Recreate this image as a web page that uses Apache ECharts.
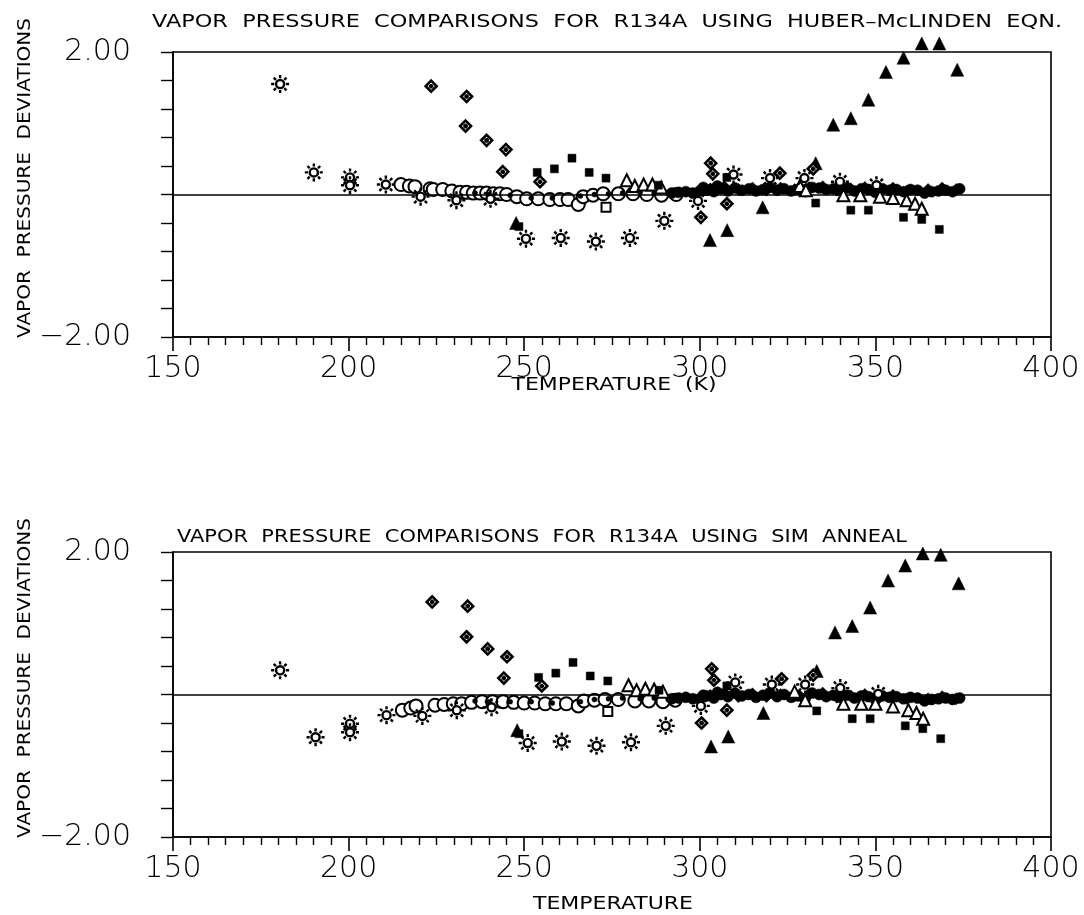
<!DOCTYPE html>
<html>
<head>
<meta charset="utf-8">
<script src="https://cdn.jsdelivr.net/npm/echarts@6/dist/echarts.min.js"></script>
<style>html,body{margin:0;padding:0;background:#fff}#c{width:1084px;height:915px}</style>
</head>
<body>
<div id="c"></div>
<script>
// ---------- DATA (temperature K, vapor pressure deviation) ----------
// Top panel: Huber-McLinden equation
const hmSunT = [180.5, 190.1, 200.4, 200.4, 210.6, 220.5, 230.7, 240.4, 250.5, 260.4, 270.4, 280.1, 289.9, 299.5, 309.6, 320.0, 329.8, 339.9, 350.3];
const hmSunV = [1.55, 0.31, 0.24, 0.13, 0.14, -0.03, -0.08, -0.06, -0.62, -0.61, -0.66, -0.61, -0.37, -0.09, 0.28, 0.23, 0.23, 0.18, 0.13];
const hmCircT = [214.9, 217.3, 218.9, 223.2, 224.1, 226.8, 229.4, 231.7, 233.6, 235.5, 237.4, 239.3, 241.2, 243.1, 245.0, 247.9, 250.7, 254.0, 257.3, 260.2, 262.5, 265.4, 266.8, 269.6, 272.5, 276.8, 281.0, 284.9, 289.1, 293.3];
const hmCircV = [0.14, 0.12, 0.11, 0.08, 0.07, 0.07, 0.05, 0.03, 0.03, 0.02, 0.02, 0.02, 0.01, 0.01, 0.0, -0.03, -0.06, -0.06, -0.07, -0.07, -0.07, -0.14, -0.03, -0.01, 0.01, 0.01, 0.01, 0.0, -0.01, 0.0];
const hmDiaT = [223.5, 233.6, 233.3, 239.3, 244.8, 243.9, 254.5, 300.3, 303.1, 303.7, 307.7, 322.8, 332.3];
const hmDiaV = [1.52, 1.375, 0.96, 0.76, 0.63, 0.32, 0.18, -0.32, 0.44, 0.29, -0.13, 0.30, 0.36];
const hmSqT = [248.5, 253.7, 258.6, 263.6, 268.5, 273.3, 288.2, 307.7, 333.0, 343.0, 348.0, 358.0, 363.2, 368.2];
const hmSqV = [-0.45, 0.31, 0.36, 0.51, 0.31, 0.23, 0.13, 0.24, -0.12, -0.22, -0.22, -0.32, -0.35, -0.49];
const hmTriT = [247.7, 302.9, 307.8, 317.9, 333.0, 338.0, 343.0, 348.0, 353.0, 358.0, 363.2, 368.2, 373.3];
const hmTriV = [-0.40, -0.64, -0.50, -0.18, 0.44, 0.98, 1.07, 1.33, 1.72, 1.92, 2.12, 2.12, 1.75];
const hmOTriT = [279.2, 281.5, 284.0, 286.5, 289.0, 328.5, 330.2, 340.9, 345.7, 351.3, 355.0, 358.9, 361.3, 363.2];
const hmOTriV = [0.20, 0.12, 0.14, 0.14, 0.10, 0.12, 0.06, -0.01, -0.01, -0.03, -0.05, -0.08, -0.13, -0.20];
const hmOSqT = [273.3];
const hmOSqV = [-0.18];
const hmDotT = [292, 294, 296, 298, 300, 301, 302, 304, 305, 306, 308, 310, 312, 314, 316, 318, 320, 322, 324, 326, 328, 330, 332, 334, 336, 338, 340, 342, 344, 346, 348, 350, 352, 354, 356, 358, 360, 362, 364, 366, 368, 370, 372, 374];
const hmDotV = [0.02, 0.03, 0.04, 0.02, 0.05, 0.10, 0.06, 0.04, 0.12, 0.08, 0.05, 0.09, 0.06, 0.08, 0.05, 0.07, 0.10, 0.06, 0.08, 0.05, 0.07, 0.04, 0.10, 0.09, 0.07, 0.08, 0.06, 0.09, 0.05, 0.08, 0.07, 0.03, 0.08, 0.06, 0.07, 0.04, 0.07, 0.06, 0.02, 0.04, 0.05, 0.06, 0.04, 0.08];
const hmDot2T = [303, 307, 311, 315, 319, 323, 327, 331, 335, 339, 343, 347, 351, 355, 359, 365, 369, 373];
const hmDot2V = [0.08, 0.11, 0.07, 0.09, 0.06, 0.09, 0.07, 0.09, 0.11, 0.06, 0.08, 0.10, 0.06, 0.09, 0.05, 0.07, 0.09, 0.07];
const hmSmallT = [236, 240, 246, 252, 258, 266, 270, 274, 278, 283, 287, 291, 295];
const hmSmallV = [0.02, 0.0, -0.01, -0.05, -0.05, -0.02, 0.0, 0.01, 0.02, 0.03, 0.02, 0.03, 0.02];

// Bottom panel: simulated annealing
const saSunT = [180.5, 190.6, 200.4, 200.4, 210.8, 221.0, 230.8, 240.7, 251.0, 260.7, 270.6, 280.4, 290.3, 300.3, 310.1, 320.5, 330.0, 340.0, 350.8];
const saSunV = [0.34, -0.60, -0.41, -0.53, -0.29, -0.30, -0.22, -0.18, -0.68, -0.66, -0.72, -0.67, -0.44, -0.16, 0.17, 0.14, 0.14, 0.09, 0.01];
const saCircT = [215.3, 217.7, 219.2, 224.6, 227.2, 229.8, 232.2, 235.0, 238.0, 241.0, 244.0, 247.0, 250.0, 253.0, 256.0, 259.0, 262.0, 265.4, 267.0, 270.0, 273.0, 276.8, 281.5, 285.5, 289.5, 293.0];
const saCircV = [-0.22, -0.19, -0.16, -0.15, -0.14, -0.13, -0.13, -0.11, -0.10, -0.10, -0.10, -0.11, -0.12, -0.12, -0.13, -0.13, -0.13, -0.16, -0.09, -0.08, -0.07, -0.07, -0.09, -0.09, -0.10, -0.08];
const saDiaT = [223.8, 233.9, 233.6, 239.6, 245.1, 244.2, 255.0, 300.5, 303.4, 304.0, 307.7, 323.3, 332.3];
const saDiaV = [1.30, 1.24, 0.81, 0.64, 0.53, 0.23, 0.12, -0.40, 0.36, 0.20, -0.22, 0.22, 0.27];
const saSqT = [248.5, 254.1, 259.0, 263.9, 268.8, 273.8, 288.4, 307.7, 333.3, 343.4, 348.5, 358.5, 363.5, 368.6];
const saSqV = [-0.55, 0.24, 0.30, 0.45, 0.26, 0.19, 0.06, 0.12, -0.23, -0.34, -0.34, -0.44, -0.48, -0.62];
const saTriT = [248.0, 303.2, 308.1, 318.1, 333.3, 338.5, 343.4, 348.5, 353.6, 358.5, 363.5, 368.6, 373.7];
const saTriV = [-0.50, -0.73, -0.59, -0.26, 0.33, 0.87, 0.96, 1.22, 1.60, 1.81, 1.98, 1.96, 1.56];
const saOTriT = [279.7, 282.0, 284.5, 287.0, 289.5, 327.0, 330.0, 340.9, 346.0, 350.0, 355.0, 359.4, 361.7, 363.6];
const saOTriV = [0.13, 0.06, 0.08, 0.07, 0.04, 0.04, -0.08, -0.13, -0.13, -0.13, -0.17, -0.22, -0.26, -0.34];
const saOSqT = [273.8];
const saOSqV = [-0.24];
const saDotT = [292, 294, 296, 298, 300, 301, 302, 304, 305, 306, 308, 310, 312, 314, 316, 318, 320, 322, 324, 326, 328, 330, 332, 334, 336, 338, 340, 342, 344, 346, 348, 350, 352, 354, 356, 358, 360, 362, 364, 366, 368, 370, 372, 374];
const saDotV = [-0.06, -0.05, -0.04, -0.06, -0.06, -0.01, -0.02, -0.05, 0.03, 0.0, -0.03, 0.02, -0.02, 0.0, -0.04, -0.01, 0.02, -0.03, 0.0, -0.04, -0.02, -0.06, 0.02, 0.0, -0.03, -0.01, -0.04, -0.01, -0.05, -0.02, -0.03, -0.07, -0.02, -0.04, -0.03, -0.06, -0.04, -0.05, -0.09, -0.07, -0.06, -0.05, -0.07, -0.05];
const saDot2T = [303, 307, 311, 315, 319, 323, 327, 331, 335, 339, 343, 347, 351, 355, 359, 365, 369, 373];
const saDot2V = [-0.01, 0.02, -0.03, 0.01, -0.03, 0.0, -0.02, 0.0, 0.02, -0.04, -0.02, 0.0, -0.05, -0.01, -0.06, -0.06, -0.03, -0.06];
const saSmallT = [236, 240, 246, 252, 258, 266, 270, 274, 278, 283, 287, 291, 295];
const saSmallV = [-0.09, -0.10, -0.10, -0.10, -0.12, -0.10, -0.07, -0.06, -0.05, -0.06, -0.05, -0.07, -0.06];

// Text
const titleTop = 'VAPOR  PRESSURE  COMPARISONS  FOR  R134A  USING  HUBER\u2013McLINDEN  EQN.';
const titleBottom = 'VAPOR  PRESSURE  COMPARISONS  FOR  R134A  USING  SIM  ANNEAL';
const yName = 'VAPOR  PRESSURE  DEVIATIONS';
const xNameTop = 'TEMPERATURE  (K)';
const xNameBottom = 'TEMPERATURE';
const xMin = 150, xMax = 400, xStep = 50;
const yMin = -2, yMax = 2, yStep = 0.4;

// ---------- RENDER ----------
const chart = echarts.init(document.getElementById('c'), null, {renderer: 'canvas'});
const FONT = '"DejaVu Sans", "Liberation Sans", sans-serif';
const measureCtx = document.createElement('canvas').getContext('2d');
function stretch(text, size, width) {
  measureCtx.font = size + 'px ' + FONT;
  return width / measureCtx.measureText(text).width;
}
function txt(text, cx, cy, size, width, rot) {
  return {
    type: 'text', x: cx, y: cy, rotation: rot || 0, scaleX: stretch(text, size, width), silent: true,
    style: {text: text, font: size + 'px ' + FONT, fill: '#000', align: 'center', verticalAlign: 'middle', textAlign: 'center', textVerticalAlign: 'middle'}
  };
}

const SUN = 'path://M4.5,0A4.5,4.5,0,1,1,-4.5,0A4.5,4.5,0,1,1,4.5,0Z M6.5,0L10,0 M-6.5,0L-10,0 M0,6.5L0,10 M0,-6.5L0,-10 M4.6,4.6L7.1,7.1 M-4.6,4.6L-7.1,7.1 M4.6,-4.6L7.1,-7.1 M-4.6,-4.6L-7.1,-7.1';
const DIAP = 'path://M0,-6L6,0L0,6L-6,0Z M0,-2.5L0,2.5 M-2.5,0L2.5,0';

function pairs(T, V) { return T.map((t, i) => [t, V[i]]); }
function sc(g, T, V, symbol, size, fill, bw, z) {
  return {
    type: 'scatter', xAxisIndex: g, yAxisIndex: g, data: pairs(T, V), symbol: symbol, symbolSize: size,
    clip: false, silent: true, animation: false, z: z || 2,
    itemStyle: {color: fill, borderColor: '#000', borderWidth: bw, opacity: 1}
  };
}
function panel(g, d) {
  return [
    {type: 'line', xAxisIndex: g, yAxisIndex: g, data: [], silent: true,
     markLine: {silent: true, symbol: 'none', label: {show: false}, animation: false,
       lineStyle: {color: '#000', width: 1.6, type: 'solid'}, data: [{yAxis: 0}]}},
    sc(g, d.circT, d.circV, 'circle', 13, '#fff', 2, 3),
    sc(g, d.smallT, d.smallV, 'circle', 5, '#000', 0.5, 4),
    sc(g, d.dotT, d.dotV, 'circle', 11, '#000', 0.5, 4),
    sc(g, d.dot2T, d.dot2V, 'diamond', 12, '#000', 0.5, 4),
    sc(g, d.oTriT, d.oTriV, 'triangle', 12, '#fff', 2, 5),
    sc(g, d.oSqT, d.oSqV, 'rect', 9, '#fff', 2, 5),
    sc(g, d.sqT, d.sqV, 'rect', 8, '#000', 0.5, 6),
    sc(g, d.triT, d.triV, 'triangle', 13, '#000', 0.5, 6),
    sc(g, d.diaT, d.diaV, DIAP, 11, '#fff', 2.6, 7),
    sc(g, d.sunT, d.sunV, SUN, 18, '#fff', 2.4, 8)
  ];
}
const topPanel = {sunT: hmSunT, sunV: hmSunV, circT: hmCircT, circV: hmCircV, diaT: hmDiaT, diaV: hmDiaV, sqT: hmSqT, sqV: hmSqV,
  triT: hmTriT, triV: hmTriV, oTriT: hmOTriT, oTriV: hmOTriV, oSqT: hmOSqT, oSqV: hmOSqV, dotT: hmDotT, dotV: hmDotV,
  dot2T: hmDot2T, dot2V: hmDot2V, smallT: hmSmallT, smallV: hmSmallV};
const botPanel = {sunT: saSunT, sunV: saSunV, circT: saCircT, circV: saCircV, diaT: saDiaT, diaV: saDiaV, sqT: saSqT, sqV: saSqV,
  triT: saTriT, triV: saTriV, oTriT: saOTriT, oTriV: saOTriV, oSqT: saOSqT, oSqV: saOSqV, dotT: saDotT, dotV: saDotV,
  dot2T: saDot2T, dot2V: saDot2V, smallT: saSmallT, smallV: saSmallV};

function xAx(g) {
  return {
    type: 'value', gridIndex: g, min: xMin, max: xMax, interval: xStep, position: 'bottom',
    axisLine: {show: true, onZero: false, lineStyle: {color: '#000', width: 1.6}},
    axisTick: {show: true, inside: false, length: 14, lineStyle: {color: '#000', width: 1.6}},
    minorTick: {show: true, splitNumber: 10, length: 8, lineStyle: {color: '#000', width: 1.4}},
    splitLine: {show: false}, minorSplitLine: {show: false},
    axisLabel: {show: true, margin: 17, color: '#000', fontSize: 30, fontFamily: FONT, fontWeight: 200}
  };
}
function yAx(g) {
  return {
    type: 'value', gridIndex: g, min: yMin, max: yMax, interval: yStep,
    axisLine: {show: true, onZero: false, lineStyle: {color: '#000', width: 1.6}},
    axisTick: {show: true, inside: false, length: 12, lineStyle: {color: '#000', width: 1.4}},
    splitLine: {show: false},
    axisLabel: {show: true, margin: 42, color: '#000', fontSize: 30, fontFamily: FONT, fontWeight: 200,
      showMinLabel: true, showMaxLabel: true,
      formatter: v => Math.abs(Math.abs(v) - 2) < 1e-6 ? (v > 0 ? '2.00' : '\u22122.00') : ''}
  };
}

chart.setOption({
  backgroundColor: '#fff',
  animation: false,
  grid: [
    {left: 173, top: 52, width: 878, height: 285, show: true, borderColor: '#000', borderWidth: 1.6, backgroundColor: 'transparent'},
    {left: 173, top: 552, width: 878, height: 285, show: true, borderColor: '#000', borderWidth: 1.6, backgroundColor: 'transparent'}
  ],
  xAxis: [xAx(0), xAx(1)],
  yAxis: [yAx(0), yAx(1)],
  series: panel(0, topPanel).concat(panel(1, botPanel)),
  graphic: [
    txt(titleTop, 607, 22, 18, 910),
    txt(titleBottom, 542, 537, 18, 730),
    txt(yName, 25, 178, 18, 320, Math.PI / 2),
    txt(yName, 25, 678, 18, 320, Math.PI / 2),
    txt(xNameTop, 614, 386, 17, 205),
    txt(xNameBottom, 613, 905, 17, 160)
  ]
});
</script>
</body>
</html>
